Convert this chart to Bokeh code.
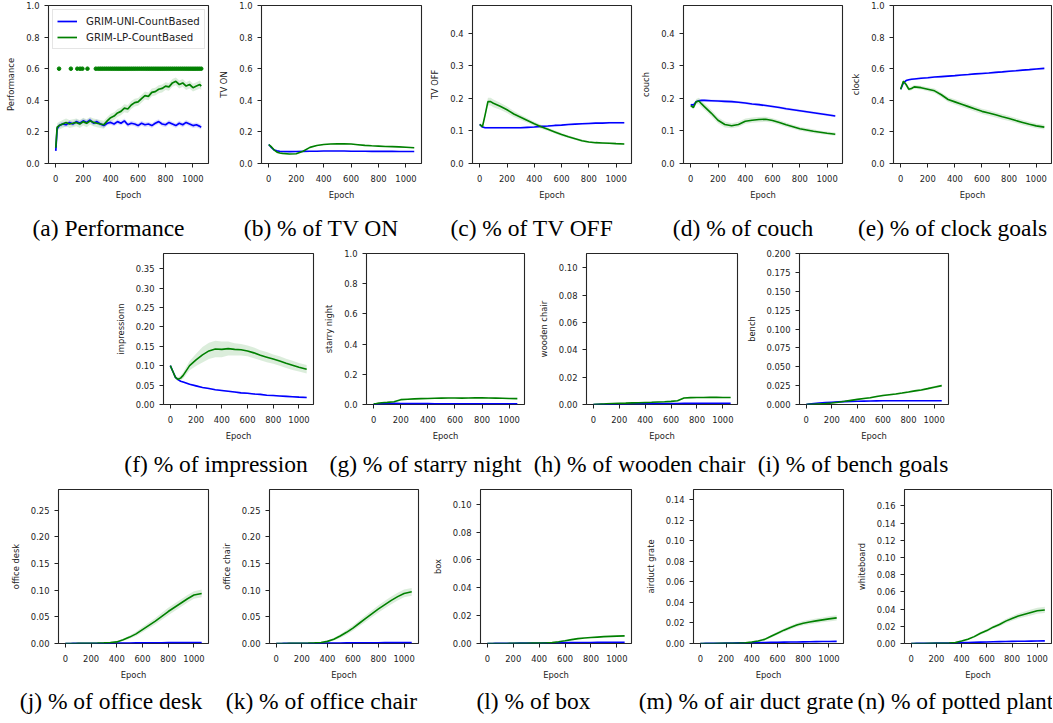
import numpy as np
from bokeh.plotting import figure
from bokeh.layouts import column, row
from bokeh.models import Range1d, FixedTicker, PrintfTickFormatter, Spacer
from bokeh.core.properties import value
from bokeh.embed import file_html
from bokeh.resources import INLINE

# ---------------- data ----------------
SERIES_NAMES = ["GRIM-UNI-CountBased", "GRIM-LP-CountBased"]
EPOCH_TICKS = [0, 200, 400, 600, 800, 1000]

PERF_EPOCH = [0, 10, 25, 50, 75, 100, 125, 150, 175, 200, 225, 250, 275, 300, 325, 350, 375, 400,
              425, 450, 475, 500, 525, 550, 575, 600, 625, 650, 675, 700, 725, 750, 775, 800, 825,
              850, 875, 900, 925, 950, 975, 1000, 1025, 1050, 1060]
PERF_UNI = [0.08, 0.22, 0.24, 0.25, 0.245, 0.26, 0.25, 0.265, 0.255, 0.27, 0.26, 0.275, 0.255, 0.265,
            0.25, 0.24, 0.255, 0.26, 0.25, 0.265, 0.255, 0.27, 0.245, 0.255, 0.25, 0.24, 0.255, 0.245,
            0.25, 0.24, 0.255, 0.265, 0.25, 0.245, 0.26, 0.25, 0.24, 0.255, 0.245, 0.26, 0.25, 0.24,
            0.245, 0.235, 0.23]
PERF_LP = [0.10, 0.23, 0.24, 0.25, 0.26, 0.25, 0.255, 0.26, 0.25, 0.265, 0.255, 0.27, 0.26, 0.255,
           0.25, 0.245, 0.27, 0.29, 0.30, 0.32, 0.33, 0.35, 0.345, 0.37, 0.385, 0.39, 0.41, 0.43,
           0.425, 0.45, 0.455, 0.47, 0.475, 0.49, 0.485, 0.51, 0.52, 0.50, 0.51, 0.49, 0.50, 0.48,
           0.49, 0.50, 0.49]
PERF_UNI_ERR = 0.015
PERF_LP_ERR = 0.025
PERF_SUCCESS_EPOCH = [24, 110, 157, 177, 194, 231, 292, 310, 325, 340, 355, 370, 385, 400, 415, 430,
                      445, 460, 475, 490, 505, 520, 535, 550, 565, 580, 595, 610, 625, 640, 655, 670,
                      685, 700, 715, 730, 745, 760, 775, 790, 805, 820, 835, 850, 865, 880, 895, 910,
                      925, 940, 955, 970, 985, 1000, 1015, 1030, 1045, 1060]
PERF_SUCCESS_LEVEL = 0.6

EPOCH = [0, 20, 40, 60, 80, 100, 150, 200, 250, 300, 350, 400, 450, 500, 550, 600, 650, 700, 750,
         800, 850, 900, 950, 1000, 1060]

TV_ON_UNI = [0.12, 0.10, 0.085, 0.08, 0.077, 0.076, 0.075, 0.076, 0.077, 0.078, 0.078, 0.079, 0.079,
             0.079, 0.079, 0.078, 0.078, 0.078, 0.077, 0.077, 0.077, 0.077, 0.076, 0.076, 0.076]
TV_ON_LP = [0.12, 0.105, 0.085, 0.072, 0.067, 0.064, 0.06, 0.062, 0.078, 0.102, 0.114, 0.12, 0.123,
            0.125, 0.124, 0.123, 0.119, 0.115, 0.112, 0.11, 0.108, 0.107, 0.105, 0.103, 0.10]
TV_ON_UNI_ERR = 0.002
TV_ON_LP_ERR = 0.003

TV_OFF_UNI = [0.12, 0.112, 0.11, 0.11, 0.11, 0.11, 0.11, 0.11, 0.11, 0.11, 0.111, 0.112, 0.114,
              0.115, 0.117, 0.118, 0.12, 0.121, 0.122, 0.123, 0.124, 0.124, 0.125, 0.125, 0.125]
TV_OFF_LP = [0.12, 0.113, 0.15, 0.19, 0.19, 0.185, 0.176, 0.165, 0.152, 0.142, 0.132, 0.122, 0.113,
             0.105, 0.097, 0.089, 0.082, 0.076, 0.07, 0.066, 0.064, 0.063, 0.062, 0.061, 0.06]
TV_OFF_UNI_ERR = 0.003
TV_OFF_LP_ERR = [0.002, 0.004, 0.008, 0.012, 0.012, 0.012, 0.011, 0.01, 0.009, 0.008, 0.007, 0.006,
                 0.006, 0.005, 0.005, 0.005, 0.004, 0.004, 0.004, 0.003, 0.003, 0.003, 0.003, 0.003, 0.003]

COUCH_UNI = [0.18, 0.18, 0.19, 0.193, 0.194, 0.194, 0.193, 0.192, 0.191, 0.19, 0.188, 0.186, 0.183,
             0.181, 0.178, 0.175, 0.172, 0.168, 0.165, 0.162, 0.159, 0.156, 0.153, 0.15, 0.146]
COUCH_LP = [0.178, 0.172, 0.19, 0.192, 0.183, 0.175, 0.155, 0.133, 0.12, 0.116, 0.12, 0.13, 0.133,
            0.135, 0.136, 0.132, 0.126, 0.119, 0.113, 0.107, 0.103, 0.099, 0.096, 0.093, 0.09]
COUCH_UNI_ERR = 0.004
COUCH_LP_ERR = [0.004, 0.006, 0.008, 0.01, 0.01, 0.01, 0.01, 0.009, 0.009, 0.008, 0.008, 0.008,
                0.008, 0.008, 0.008, 0.007, 0.007, 0.007, 0.006, 0.006, 0.006, 0.006, 0.005, 0.005, 0.005]

CLOCK_UNI = [0.47, 0.51, 0.525, 0.53, 0.533, 0.535, 0.54, 0.543, 0.547, 0.55, 0.553, 0.556, 0.56,
             0.563, 0.567, 0.57, 0.573, 0.577, 0.58, 0.584, 0.587, 0.591, 0.594, 0.598, 0.602]
CLOCK_LP = [0.47, 0.52, 0.5, 0.47, 0.475, 0.485, 0.48, 0.47, 0.46, 0.435, 0.405, 0.39, 0.375, 0.36,
            0.345, 0.33, 0.32, 0.308, 0.296, 0.285, 0.272, 0.26, 0.248, 0.238, 0.23]
CLOCK_UNI_ERR = 0.006
CLOCK_LP_ERR = [0.005, 0.01, 0.012, 0.012, 0.012, 0.012, 0.012, 0.013, 0.014, 0.015, 0.016, 0.016,
                0.017, 0.017, 0.017, 0.017, 0.017, 0.017, 0.017, 0.016, 0.016, 0.016, 0.016, 0.015, 0.015]

IMPRESSION_UNI = [0.1, 0.085, 0.07, 0.064, 0.06, 0.058, 0.052, 0.048, 0.044, 0.041, 0.038, 0.036,
                  0.034, 0.032, 0.03, 0.029, 0.027, 0.026, 0.024, 0.023, 0.022, 0.021, 0.02, 0.019, 0.018]
IMPRESSION_LP = [0.1, 0.085, 0.07, 0.065, 0.068, 0.075, 0.1, 0.115, 0.128, 0.138, 0.143, 0.142, 0.144,
                 0.142, 0.141, 0.138, 0.133, 0.127, 0.122, 0.117, 0.112, 0.106, 0.101, 0.096, 0.091]
IMPRESSION_UNI_ERR = 0.002
IMPRESSION_LP_ERR = [0.002, 0.003, 0.004, 0.005, 0.006, 0.008, 0.012, 0.016, 0.02, 0.021, 0.021, 0.02,
                     0.018, 0.016, 0.015, 0.014, 0.014, 0.013, 0.013, 0.012, 0.012, 0.012, 0.012, 0.011, 0.011]

STARRY_UNI = [0.002, 0.003, 0.004, 0.005, 0.006, 0.007, 0.008, 0.007, 0.006, 0.006, 0.006, 0.006,
              0.005, 0.005, 0.005, 0.005, 0.005, 0.005, 0.005, 0.005, 0.005, 0.005, 0.005, 0.005, 0.005]
STARRY_LP = [0.005, 0.007, 0.01, 0.012, 0.013, 0.014, 0.018, 0.032, 0.035, 0.037, 0.039, 0.04, 0.041,
             0.042, 0.043, 0.043, 0.042, 0.043, 0.044, 0.044, 0.043, 0.042, 0.041, 0.04, 0.039]
STARRY_UNI_ERR = 0.003
STARRY_LP_ERR = 0.002

WOODEN_UNI = [0, 0.00005, 0.0001, 0.00013, 0.00016, 0.0002, 0.0003, 0.0004, 0.00045, 0.0005, 0.00055,
              0.0006, 0.00065, 0.0007, 0.00072, 0.00075, 0.00078, 0.0008, 0.00082, 0.00085, 0.00087,
              0.00088, 0.0009, 0.0009, 0.0009]
WOODEN_LP = [0, 0.0001, 0.0002, 0.0003, 0.0004, 0.0005, 0.0007, 0.0009, 0.001, 0.0012, 0.0013, 0.0015,
             0.0016, 0.0018, 0.002, 0.0023, 0.0028, 0.0048, 0.005, 0.0051, 0.0051, 0.0052, 0.0052,
             0.0051, 0.0051]
WOODEN_UNI_ERR = 0.0002
WOODEN_LP_ERR = 0.0004

BENCH_UNI = [0, 0.0005, 0.001, 0.0013, 0.0016, 0.0019, 0.0025, 0.003, 0.0035, 0.0038, 0.0041, 0.0043,
             0.0045, 0.0047, 0.0048, 0.0049, 0.005, 0.005, 0.005, 0.005, 0.005, 0.005, 0.005, 0.005, 0.005]
BENCH_LP = [0, 0.0001, 0.0002, 0.0003, 0.0005, 0.0007, 0.0012, 0.002, 0.003, 0.0042, 0.0055, 0.0068,
            0.008, 0.009, 0.0105, 0.012, 0.013, 0.014, 0.0152, 0.0165, 0.018, 0.0193, 0.021, 0.0228, 0.025]
BENCH_UNI_ERR = 0.0003
BENCH_LP_ERR = [0, 0, 0, 0, 0.0002, 0.0003, 0.0004, 0.0005, 0.0006, 0.0007, 0.0008, 0.0009, 0.001,
                0.001, 0.0011, 0.0012, 0.0012, 0.0013, 0.0013, 0.0014, 0.0014, 0.0015, 0.0015, 0.0016, 0.0016]

DESK_UNI = [0, 0.00005, 0.0001, 0.00015, 0.0002, 0.0002, 0.0003, 0.0004, 0.0005, 0.0006, 0.0007,
            0.0008, 0.0009, 0.001, 0.0011, 0.0012, 0.0013, 0.0014, 0.0015, 0.0016, 0.0016, 0.0017,
            0.0017, 0.0018, 0.0018]
DESK_LP = [0, 0, 0, 0.0001, 0.0001, 0.0002, 0.0003, 0.0005, 0.0008, 0.0012, 0.002, 0.003, 0.007,
           0.012, 0.018, 0.026, 0.034, 0.042, 0.051, 0.06, 0.068, 0.076, 0.084, 0.091, 0.094]
DESK_UNI_ERR = 0.0004
DESK_LP_ERR = [0, 0, 0, 0, 0, 0, 0.0001, 0.0002, 0.0003, 0.0005, 0.001, 0.0015, 0.002, 0.003, 0.004,
               0.005, 0.0055, 0.006, 0.0065, 0.007, 0.007, 0.007, 0.0072, 0.0072, 0.0072]

CHAIR_UNI = [0, 0.00005, 0.0001, 0.00015, 0.0002, 0.0002, 0.0003, 0.0004, 0.0005, 0.0006, 0.0007,
             0.0008, 0.0009, 0.001, 0.0011, 0.0012, 0.0013, 0.0014, 0.0015, 0.0015, 0.0016, 0.0016,
             0.0017, 0.0017, 0.0017]
CHAIR_LP = [0, 0, 0, 0.0001, 0.0001, 0.0002, 0.0003, 0.0005, 0.0008, 0.0012, 0.002, 0.004, 0.008,
            0.014, 0.021, 0.029, 0.038, 0.047, 0.056, 0.065, 0.073, 0.081, 0.088, 0.094, 0.097]
CHAIR_UNI_ERR = 0.0004
CHAIR_LP_ERR = [0, 0, 0, 0, 0, 0, 0.0001, 0.0002, 0.0003, 0.0005, 0.001, 0.0015, 0.0025, 0.0035,
                0.0045, 0.005, 0.0055, 0.006, 0.0065, 0.007, 0.007, 0.0072, 0.0072, 0.0072, 0.0072]

BOX_UNI = [0, 0.00002, 0.00005, 0.00008, 0.0001, 0.0001, 0.00015, 0.0002, 0.00025, 0.0003, 0.00035,
           0.0004, 0.00045, 0.0005, 0.00055, 0.0006, 0.00065, 0.0007, 0.0007, 0.00075, 0.0008, 0.0008,
           0.00085, 0.0009, 0.0009]
BOX_LP = [0, 0, 0, 0, 0, 0, 0.00005, 0.0001, 0.00015, 0.0002, 0.00025, 0.0003, 0.0004, 0.0007, 0.0013,
          0.002, 0.0028, 0.0035, 0.004, 0.0043, 0.0046, 0.0049, 0.0051, 0.0053, 0.0055]
BOX_UNI_ERR = 0.0002
BOX_LP_ERR = 0.0003

DUCT_UNI = [0, 0.00005, 0.0001, 0.00015, 0.0002, 0.00025, 0.0003, 0.0004, 0.0005, 0.0006, 0.0007,
            0.0008, 0.0009, 0.001, 0.0011, 0.0012, 0.0013, 0.0014, 0.0015, 0.0016, 0.0017, 0.0018,
            0.0019, 0.002, 0.0021]
DUCT_LP = [0, 0, 0, 0, 0, 0, 0.0001, 0.0002, 0.0003, 0.0005, 0.0008, 0.0015, 0.0025, 0.004, 0.007,
           0.01, 0.013, 0.0155, 0.018, 0.0198, 0.021, 0.022, 0.023, 0.024, 0.025]
DUCT_UNI_ERR = 0.0005
DUCT_LP_ERR = [0, 0, 0, 0, 0, 0, 0.0001, 0.0001, 0.0002, 0.0003, 0.0004, 0.0006, 0.0008, 0.001,
               0.0013, 0.0015, 0.0017, 0.0019, 0.002, 0.0021, 0.0022, 0.0023, 0.0024, 0.0025, 0.0025]

WHITEBOARD_UNI = [0, 0.00005, 0.0001, 0.00015, 0.0002, 0.00025, 0.0003, 0.0004, 0.0005, 0.0006,
                  0.0008, 0.001, 0.0012, 0.0014, 0.0016, 0.0018, 0.002, 0.0022, 0.0024, 0.0025,
                  0.0026, 0.0027, 0.0028, 0.0029, 0.003]
WHITEBOARD_LP = [0, 0, 0, 0, 0, 0, 0.0001, 0.0002, 0.0003, 0.0006, 0.0012, 0.003, 0.005, 0.008,
                 0.012, 0.015, 0.019, 0.022, 0.026, 0.029, 0.032, 0.034, 0.036, 0.038, 0.039]
WHITEBOARD_UNI_ERR = 0.0006
WHITEBOARD_LP_ERR = [0, 0, 0, 0, 0, 0, 0.0001, 0.0001, 0.0002, 0.0003, 0.0005, 0.0008, 0.001, 0.0013,
                     0.0016, 0.0018, 0.002, 0.0022, 0.0025, 0.0027, 0.003, 0.0032, 0.0034, 0.0035, 0.0036]

YT_UNIT = [0.0, 0.2, 0.4, 0.6, 0.8, 1.0]
YT_TV = [0.0, 0.1, 0.2, 0.3, 0.4]
YT_IMPRESSION = [0.0, 0.05, 0.10, 0.15, 0.20, 0.25, 0.30, 0.35]
YT_SMALL = [0.0, 0.02, 0.04, 0.06, 0.08, 0.10]
YT_BENCH = [0.0, 0.025, 0.05, 0.075, 0.10, 0.125, 0.15, 0.175, 0.20]
YT_DESK = [0.0, 0.05, 0.10, 0.15, 0.20, 0.25]
YT_DUCT = [0.0, 0.02, 0.04, 0.06, 0.08, 0.10, 0.12, 0.14]
YT_WHITEBOARD = [0.0, 0.02, 0.04, 0.06, 0.08, 0.10, 0.12, 0.14, 0.16]

PANELS = {
    "perf": dict(ylabel="Performance", caption="(a) Performance", x=PERF_EPOCH, uni=PERF_UNI, lp=PERF_LP,
                 uni_err=PERF_UNI_ERR, lp_err=PERF_LP_ERR, ymax=1.0, yticks=YT_UNIT, fmt="%.1f"),
    "tv_on": dict(ylabel="TV ON", caption="(b) % of TV ON", x=EPOCH, uni=TV_ON_UNI, lp=TV_ON_LP,
                  uni_err=TV_ON_UNI_ERR, lp_err=TV_ON_LP_ERR, ymax=1.0, yticks=YT_UNIT, fmt="%.1f"),
    "tv_off": dict(ylabel="TV OFF", caption="(c) % of TV OFF", x=EPOCH, uni=TV_OFF_UNI, lp=TV_OFF_LP,
                   uni_err=TV_OFF_UNI_ERR, lp_err=TV_OFF_LP_ERR, ymax=0.4855, yticks=YT_TV, fmt="%.1f"),
    "couch": dict(ylabel="couch", caption="(d) % of couch", x=EPOCH, uni=COUCH_UNI, lp=COUCH_LP,
                  uni_err=COUCH_UNI_ERR, lp_err=COUCH_LP_ERR, ymax=0.4855, yticks=YT_TV, fmt="%.1f"),
    "clock": dict(ylabel="clock", caption="(e) % of clock goals", x=EPOCH, uni=CLOCK_UNI, lp=CLOCK_LP,
                  uni_err=CLOCK_UNI_ERR, lp_err=CLOCK_LP_ERR, ymax=1.0, yticks=YT_UNIT, fmt="%.1f"),
    "impression": dict(ylabel="impressionn", caption="(f) % of impression", x=EPOCH, uni=IMPRESSION_UNI,
                       lp=IMPRESSION_LP, uni_err=IMPRESSION_UNI_ERR, lp_err=IMPRESSION_LP_ERR,
                       ymax=0.389, yticks=YT_IMPRESSION, fmt="%.2f"),
    "starry": dict(ylabel="starry night", caption="(g) % of starry night", x=EPOCH, uni=STARRY_UNI,
                   lp=STARRY_LP, uni_err=STARRY_UNI_ERR, lp_err=STARRY_LP_ERR, ymax=1.0, yticks=YT_UNIT,
                   fmt="%.1f"),
    "wooden": dict(ylabel="wooden chair", caption="(h) % of wooden chair", x=EPOCH, uni=WOODEN_UNI,
                   lp=WOODEN_LP, uni_err=WOODEN_UNI_ERR, lp_err=WOODEN_LP_ERR, ymax=0.1105,
                   yticks=YT_SMALL, fmt="%.2f"),
    "bench": dict(ylabel="bench", caption="(i) % of bench goals", x=EPOCH, uni=BENCH_UNI, lp=BENCH_LP,
                  uni_err=BENCH_UNI_ERR, lp_err=BENCH_LP_ERR, ymax=0.2, yticks=YT_BENCH, fmt="%.3f"),
    "desk": dict(ylabel="office desk", caption="(j) % of office desk", x=EPOCH, uni=DESK_UNI, lp=DESK_LP,
                 uni_err=DESK_UNI_ERR, lp_err=DESK_LP_ERR, ymax=0.289, yticks=YT_DESK, fmt="%.2f"),
    "chair": dict(ylabel="office chair", caption="(k) % of office chair", x=EPOCH, uni=CHAIR_UNI,
                  lp=CHAIR_LP, uni_err=CHAIR_UNI_ERR, lp_err=CHAIR_LP_ERR, ymax=0.289, yticks=YT_DESK,
                  fmt="%.2f"),
    "box": dict(ylabel="box", caption="(l) % of box", x=EPOCH, uni=BOX_UNI, lp=BOX_LP,
                uni_err=BOX_UNI_ERR, lp_err=BOX_LP_ERR, ymax=0.1105, yticks=YT_SMALL, fmt="%.2f"),
    "duct": dict(ylabel="airduct grate", caption="(m) % of air duct grate", x=EPOCH, uni=DUCT_UNI,
                 lp=DUCT_LP, uni_err=DUCT_UNI_ERR, lp_err=DUCT_LP_ERR, ymax=0.15, yticks=YT_DUCT,
                 fmt="%.2f"),
    "whiteboard": dict(ylabel="whiteboard", caption="(n) % of potted plant", x=EPOCH, uni=WHITEBOARD_UNI,
                       lp=WHITEBOARD_LP, uni_err=WHITEBOARD_UNI_ERR, lp_err=WHITEBOARD_LP_ERR,
                       ymax=0.179, yticks=YT_WHITEBOARD, fmt="%.2f"),
}

# ---------------- layout / style ----------------
BLUE = "#0000ff"
GREEN = "#008000"
INK = "#222222"
SANS = "DejaVu Sans"
SMALL = "8.4px"
X_LIMITS = (-53, 1113)
ORIGIN = 0
TOTAL_W = 1052

ROW_SPECS = [
    dict(keys=["perf", "tv_on", "tv_off", "couch", "clock"], left=[48, 261, 472, 683, 893],
         fw=[160, 160, 159, 159, 158], top=[5] * 5, fh=[159] * 5, L=[46] * 5, height=202,
         strip_h=40, cap_dy=25),
    dict(keys=["impression", "starry", "wooden", "bench"], left=[158, 366, 581, 797],
         fw=[155, 158, 156, 151], top=[6, 7, 7, 11], fh=[156, 158, 155, 151], L=[46, 46, 46, 54],
         height=201, strip_h=38, cap_dy=20),
    dict(keys=["desk", "chair", "box", "duct", "whiteboard"], left=[53, 264, 475, 688, 899],
         fw=[155, 154, 156, 155, 152], top=[7, 7, 8, 7, 7], fh=[155, 155, 155, 155, 155], L=[46] * 5,
         height=202, strip_h=38, cap_dy=17),
]
CAPTION_SHIFT = 20


def make_panel(key, L, R, T, fw, fh, H):
    d = PANELS[key]
    p = figure(width=L + fw + R, height=H, x_range=Range1d(*X_LIMITS), y_range=Range1d(0, d["ymax"]),
               output_backend="svg", toolbar_location=None, tools="",
               min_border_left=L, min_border_right=R, min_border_top=T, min_border_bottom=H - T - fh)
    p.background_fill_color = "white"
    p.border_fill_color = "white"
    p.outline_line_color = "#262626"
    p.outline_line_width = 1.1
    p.outline_line_alpha = 1.0
    p.grid.visible = False

    x = np.asarray(d["x"], float)
    series = [(d["uni"], d["uni_err"], BLUE, SERIES_NAMES[0]),
              (d["lp"], d["lp_err"], GREEN, SERIES_NAMES[1])]
    for vals, err, color, _ in series:
        y = np.asarray(vals, float)
        e = np.broadcast_to(np.asarray(err, float), y.shape)
        p.varea(x=x, y1=y - e, y2=y + e, fill_color=color, fill_alpha=0.14)
    if key == "perf":
        p.scatter(x=PERF_SUCCESS_EPOCH, y=[PERF_SUCCESS_LEVEL] * len(PERF_SUCCESS_EPOCH),
                  marker="circle", size=3.6, fill_color=GREEN, line_color=GREEN)
    for vals, err, color, name in series:
        y = np.asarray(vals, float)
        if key == "perf":
            p.line(x=x, y=y, line_color=color, line_width=1.7, legend_label=name)
        else:
            p.line(x=x, y=y, line_color=color, line_width=1.6)

    p.xaxis.ticker = FixedTicker(ticks=EPOCH_TICKS)
    p.yaxis.ticker = FixedTicker(ticks=d["yticks"])
    p.yaxis.formatter = PrintfTickFormatter(format=d["fmt"])
    p.xaxis.axis_label = "Epoch"
    p.yaxis.axis_label = d["ylabel"]
    for ax in p.axis:
        ax.axis_line_color = None
        ax.major_tick_in = 0
        ax.major_tick_out = 4
        ax.major_tick_line_color = INK
        ax.major_tick_line_width = 1
        ax.minor_tick_line_color = None
        ax.major_label_text_font = SANS
        ax.major_label_text_font_size = SMALL
        ax.major_label_text_color = INK
        ax.axis_label_text_font = SANS
        ax.axis_label_text_font_size = SMALL
        ax.axis_label_text_font_style = "normal"
        ax.axis_label_text_color = INK
    p.xaxis.major_label_standoff = 7
    p.xaxis.axis_label_standoff = 5
    p.yaxis.major_label_standoff = 5
    p.yaxis.axis_label_standoff = 7

    if key == "perf":
        lg = p.legend[0]
        lg.location = "top_left"
        lg.margin = 4
        lg.padding = 4
        lg.spacing = 2
        lg.glyph_width = 20
        lg.glyph_height = 14
        lg.label_height = 14
        lg.label_standoff = 9
        lg.label_text_font = SANS
        lg.label_text_font_size = "10.2px"
        lg.label_text_color = INK
        lg.border_line_color = "#cccccc"
        lg.border_line_width = 1
        lg.background_fill_alpha = 0.85
    return p


def make_strip(spec):
    h = spec["strip_h"]
    s = figure(width=TOTAL_W, height=h, x_range=Range1d(0, TOTAL_W), y_range=Range1d(0, h),
               output_backend="svg", toolbar_location=None, tools="",
               x_axis_location=None, y_axis_location=None, min_border=0)
    s.grid.visible = False
    s.outline_line_color = None
    s.background_fill_color = "white"
    s.border_fill_color = "white"
    xs = [l + w / 2 - CAPTION_SHIFT - ORIGIN for l, w in zip(spec["left"], spec["fw"])]
    ys = [h - spec["cap_dy"]] * len(xs)
    texts = [PANELS[k]["caption"] for k in spec["keys"]]
    s.text(x=xs, y=ys, text=texts, text_font=value("Liberation Serif"), text_font_size="23.5px",
           text_align="center", text_baseline="middle", text_color="black")
    return s


blocks = []
for spec in ROW_SPECS:
    children = []
    cursor = ORIGIN
    for i, key in enumerate(spec["keys"]):
        L = spec["L"][i]
        R = 1 if (spec["left"][i] + spec["fw"][i] + 2 > ORIGIN + TOTAL_W) else 2
        start = spec["left"][i] - L
        gap = start - cursor
        if gap > 0:
            children.append(Spacer(width=gap, height=spec["height"]))
        fig = make_panel(key, L, R, spec["top"][i], spec["fw"][i], spec["fh"][i], spec["height"])
        children.append(fig)
        cursor = start + L + spec["fw"][i] + R
    blocks.append(row(*children))
    blocks.append(make_strip(spec))

layout = column(*blocks)

open("out.html", "w").write(file_html(layout, INLINE))
